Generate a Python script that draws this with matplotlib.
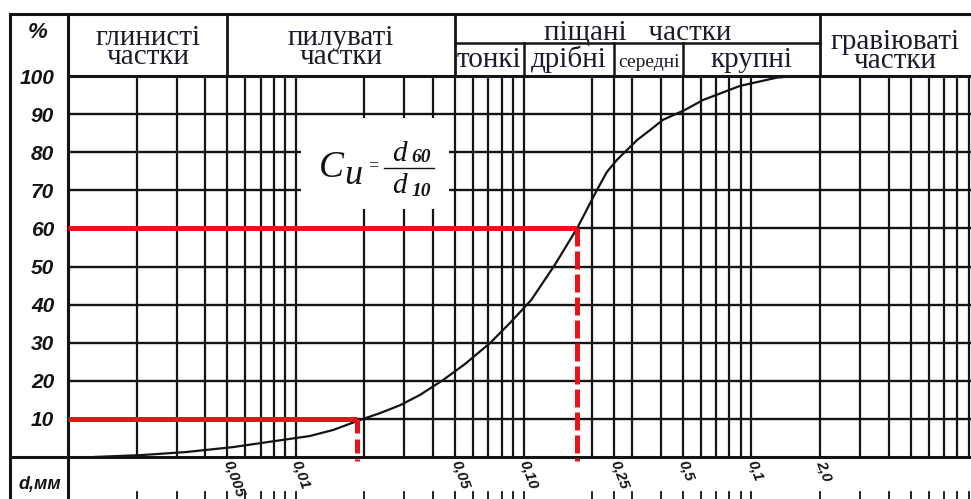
import numpy as np
import matplotlib.pyplot as plt
from matplotlib.patches import Rectangle
from matplotlib.lines import Line2D
from matplotlib.transforms import blended_transform_factory

# grain size curve: particle diameter (mm) and % finer
diam = [0.0013, 0.0021, 0.0033, 0.0053, 0.0088, 0.0115, 0.0146, 0.0191, 0.0234,
        0.0287, 0.0351, 0.0443, 0.0553, 0.0712, 0.0872, 0.108, 0.137, 0.172,
        0.210, 0.232, 0.257, 0.315, 0.359, 0.409, 0.511, 0.613, 0.891, 1.3, 1.6]
passing = [0, 0.5, 1.3, 2.6, 4.5, 5.5, 7.1, 9.7, 11.5,
           13.6, 16.3, 20.2, 24.4, 29.9, 35.2, 41.2, 50.4, 60.1,
           70.1, 74.8, 78.0, 83.2, 85.8, 88.5, 91.1, 93.7, 97.4, 99.6, 100]

d10 = 0.0186
d60 = 0.172

pct_ticks = [10, 20, 30, 40, 50, 60, 70, 80, 90, 100]
d_ticks = [0.005, 0.01, 0.05, 0.10, 0.25, 0.5, 1.0, 2.0]
d_labels = ["0,005", "0,01", "0,05", "0,10", "0,25", "0,5", "0,1", "2,0"]

# fraction boundaries (mm) used by the header
clay_silt = 0.005
silt_sand = 0.05
sand_gravel = 2.0
sand_sub = [0.1, 0.25, 0.5]

W, H = 971, 499
AX_L, AX_R, AX_T, AX_B = 68, 971, 76, 457

fig = plt.figure(figsize=(W / 100, H / 100), dpi=100)
ax = fig.add_axes([AX_L / W, (H - AX_B) / H, (AX_R - AX_L) / W, (AX_B - AX_T) / H])
ax.set_xscale("log")
ax.set_xlim(0.001, 0.001 * 10 ** ((AX_R - AX_L) / 227.8))
ax.set_ylim(0, 100)

ink = "#141414"
red = "#e8141a"


def axp(px, py):
    # pixel position -> axes fraction
    return (px - AX_L) / (AX_R - AX_L), (AX_B - py) / (AX_B - AX_T)


def yax(py):
    return (AX_B - py) / (AX_B - AX_T)


# log grid
grid_x = sorted(list(np.outer(np.arange(1, 10), [0.001, 0.01, 0.1, 1.0]).ravel()) + [0.25])
for gx in grid_x:
    ax.axvline(gx, color=ink, lw=1.6, zorder=1)
for gy in pct_ticks[:-1]:
    ax.axhline(gy, color=ink, lw=1.7, zorder=1)

# blank patch behind the formula
ax.add_patch(Rectangle((0.0105, 65), 0.047 - 0.0105, 24, facecolor="white",
                       edgecolor="none", zorder=1.5))

for s in ["left", "top", "bottom"]:
    ax.spines[s].set_linewidth(2.2)
    ax.spines[s].set_color(ink)
ax.spines["right"].set_visible(False)

# curve
ax.plot(diam, passing, color=ink, lw=1.6, zorder=3)

# d10 / d60 construction lines
ax.plot([0.001, d60], [60, 60], color=red, lw=3.6, solid_capstyle="butt", zorder=4)
ax.plot([d60, d60], [60, -1], color=red, lw=3.6, dashes=(3.6, 1.0), clip_on=False, zorder=4)
ax.plot([0.001, d10], [10, 10], color=red, lw=3.6, solid_capstyle="butt", zorder=4)
ax.plot([d10, d10], [10, -1], color=red, lw=3.6, dashes=(2.8, 1.2), clip_on=False, zorder=4)

# axis labels
num_font = dict(family=["Liberation Sans", "DejaVu Sans"], style="italic",
                weight="bold")
ax.set_yticks(pct_ticks)
ax.set_yticklabels([str(v) for v in pct_ticks], fontsize=15, color=ink, **num_font)
ax.set_xticks(d_ticks)
ax.set_xticklabels(d_labels, fontsize=11, color=ink, rotation=-70, ha="left",
                   va="center", rotation_mode="anchor", **num_font)
ax.xaxis.set_minor_locator(plt.NullLocator())
ax.tick_params(axis="y", length=0, pad=10)
ax.tick_params(axis="x", length=0, pad=3)

# frame lines outside the plot area
frame = dict(color=ink, lw=2.2, transform=ax.transAxes, clip_on=False)
top = yax(14)
bot = yax(H)
left = axp(10, 0)[0]
ax.add_line(Line2D([left, 1], [top, top], **frame))
ax.add_line(Line2D([left, left], [top, bot], **frame))
ax.add_line(Line2D([0, 0], [top, bot], **frame))
ax.add_line(Line2D([left, 0], [0, 0], **frame))

bx = blended_transform_factory(ax.transData, ax.transAxes)
for b in [clay_silt, silt_sand, sand_gravel]:
    ax.add_line(Line2D([b, b], [1, top], color=ink, lw=2.0, transform=bx, clip_on=False))
sub = yax(43)
ax.add_line(Line2D([silt_sand, sand_gravel], [sub, sub], color=ink, lw=1.8,
                   transform=bx, clip_on=False))
for b in sand_sub:
    ax.add_line(Line2D([b, b], [1, sub], color=ink, lw=1.8, transform=bx, clip_on=False))

# small ruler marks at the very bottom
for gx in grid_x:
    ax.add_line(Line2D([gx, gx], [yax(492), bot], color=ink, lw=1.3,
                       transform=bx, clip_on=False))

# header text (va=baseline on two lines anchors the last line)
hdr = dict(family=["Liberation Serif", "DejaVu Serif"], fontsize=21, color="#1b1b2b",
           ha="center", va="baseline", transform=bx, linespacing=0.66)
gm = lambda a, b: np.sqrt(a * b)
ax.text(gm(0.001, clay_silt), yax(64), "глинисті\nчастки", **hdr)
ax.text(gm(clay_silt, silt_sand), yax(64), "пилуваті\nчастки", **hdr)
ax.text(gm(silt_sand, sand_gravel), yax(40), "піщані   частки", **hdr)
ax.text(gm(silt_sand, 0.1), yax(67), "тонкі", **hdr)
ax.text(gm(0.1, 0.25), yax(67), "дрібні", **hdr)
ax.text(gm(0.25, 0.5), yax(67), "середні", **{**hdr, "fontsize": 14})
ax.text(gm(0.5, sand_gravel), yax(67), "крупні", **hdr)
ax.text(axp(895, 0)[0], yax(68), "гравіюваті\nчастки", **{**hdr, "transform": ax.transAxes})

ax.text(*axp(38, 33), "%", fontsize=16, ha="center", va="center", color=ink,
        transform=ax.transAxes, **num_font)
ax.text(*axp(40, 485), "d,мм", fontsize=13, ha="center", va="center", color=ink,
        transform=ax.transAxes, **num_font)

# formula Cu = d60 / d10
ser = dict(family=["Liberation Serif", "DejaVu Serif"], style="italic", color=ink,
           transform=ax.transAxes, zorder=5)
ax.text(*axp(331, 168), "C", fontsize=27, ha="center", va="center", **ser)
ax.text(*axp(353, 176), "u", fontsize=26, ha="center", va="center", **ser)
ax.text(*axp(374, 166), "=", fontsize=13, ha="center", va="center", **ser)
ax.add_line(Line2D([axp(384, 0)[0], axp(434, 0)[0]], [yax(168), yax(168)], color=ink,
                   lw=1.0, transform=ax.transAxes, zorder=5))
ax.text(*axp(399, 154), "d", fontsize=21, ha="center", va="center", **ser)
ax.text(*axp(421, 158), "60", fontsize=14, ha="center", va="center", weight="bold", **ser)
ax.text(*axp(399, 186), "d", fontsize=21, ha="center", va="center", **ser)
ax.text(*axp(421, 191), "10", fontsize=14, ha="center", va="center", weight="bold", **ser)

fig.savefig("out.png", dpi=100, facecolor="white")
